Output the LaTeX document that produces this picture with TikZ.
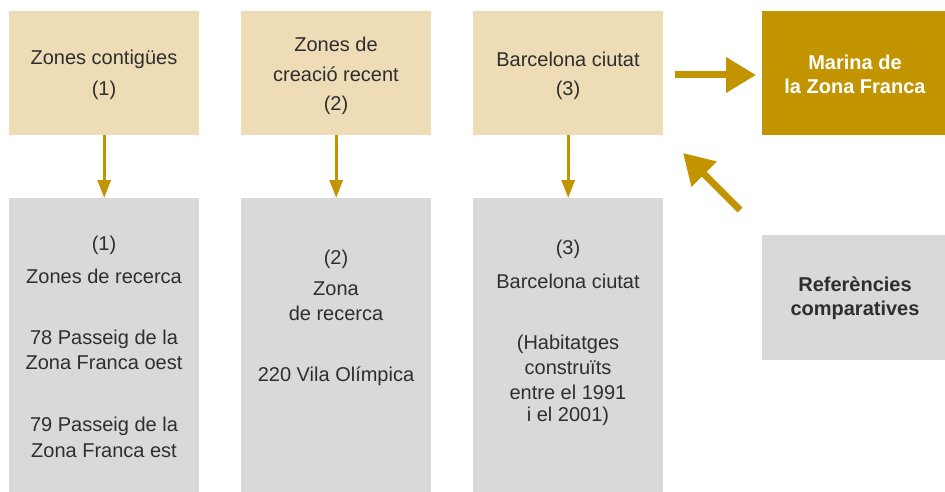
\documentclass[tikz,border=0pt]{standalone}
\usepackage{fontspec}
\setmainfont{Liberation Sans}
\usetikzlibrary{arrows.meta}
\definecolor{beige}{HTML}{EEDCB6}
\definecolor{gold}{HTML}{C19400}
\definecolor{lgray}{HTML}{D9D9D9}
\definecolor{txt}{HTML}{2E2E2E}
\begin{document}
\begin{tikzpicture}[x=1pt,y=-1pt,
  topbox/.style={fill=beige,draw=none,minimum width=190pt,minimum height=124pt,inner sep=0pt,anchor=north west},
  botbox/.style={fill=lgray,draw=none,minimum width=190pt,minimum height=294pt,inner sep=0pt,anchor=north west},
  goldbox/.style={fill=gold,draw=none,minimum width=183pt,minimum height=124pt,inner sep=0pt,anchor=north west},
  refbox/.style={fill=lgray,draw=none,minimum width=183pt,minimum height=125pt,inner sep=0pt,anchor=north west},
  lbl/.style={text=txt,font=\fontsize{20}{24}\selectfont,inner sep=0pt,anchor=center},
  blbl/.style={font=\fontsize{20}{24}\selectfont\bfseries,inner sep=0pt,anchor=center,align=center},
  thin/.style={draw=gold,line width=3pt,-{Triangle[length=18pt,width=13pt]}},
  thick/.style={draw=gold,line width=7pt,-{Triangle[length=30pt,width=34pt]}}
]
\useasboundingbox (0,0) rectangle (945,492);
% boxes
\node[topbox] (t1) at (9,11) {};
\node[topbox] (t2) at (241,11) {};
\node[topbox] (t3) at (473,11) {};
\node[goldbox] (mz) at (762,11) {};
\node[botbox] (b1) at (9,198) {};
\node[botbox] (b2) at (241,198) {};
\node[botbox] (b3) at (473,198) {};
\node[refbox] (rc) at (762,235) {};
% top texts
\node[lbl] (t1a) at (104,59) {Zones contigües};
\node[lbl] (t1b) at (104,90) {(1)};
\node[lbl] (t2a) at (336,44) {Zones de};
\node[lbl] (t2b) at (336,74) {creació recent};
\node[lbl] (t2c) at (336,105) {(2)};
\node[lbl] (t3a) at (568,59) {Barcelona ciutat};
\node[lbl] (t3b) at (568,90) {(3)};
\node[blbl,text=white] (mzt) at (855,74) {Marina de\\la Zona Franca};
\node[blbl,text=txt] (rct) at (855,298) {Referències\\comparatives};
% bottom texts
\node[lbl] (b1a) at (104,245) {(1)};
\node[lbl] (b1b) at (104,276) {Zones de recerca};
\node[lbl] (b1c) at (104,339) {78 Passeig de la};
\node[lbl] (b1d) at (104,363) {Zona Franca oest};
\node[lbl] (b1e) at (104,426) {79 Passeig de la};
\node[lbl] (b1f) at (104,451) {Zona Franca est};
\node[lbl] (b2a) at (336,259) {(2)};
\node[lbl] (b2b) at (336,289) {Zona};
\node[lbl] (b2c) at (336,313) {de recerca};
\node[lbl] (b2d) at (336,376) {220 Vila Olímpica};
\node[lbl] (b3a) at (568,249) {(3)};
\node[lbl] (b3b) at (568,281) {Barcelona ciutat};
\node[lbl] (b3c) at (568,344) {(Habitatges};
\node[lbl] (b3d) at (568,368) {construïts};
\node[lbl] (b3e) at (568,392) {entre el 1991};
\node[lbl] (b3f) at (568,416) {i el 2001)};
% arrows
\draw[thin] (t1.south) -- (b1.north);
\draw[thin] (t2.south) -- (b2.north);
\draw[thin] (t3.south) -- (b3.north);
\coordinate (ra) at (675,75);
\coordinate (rb) at (756,75);
\draw[thick] (ra) -- (rb);
\coordinate (da) at (740,210);
\coordinate (db) at (683,153);
\draw[thick] (da) -- (db);
\end{tikzpicture}
\end{document}
